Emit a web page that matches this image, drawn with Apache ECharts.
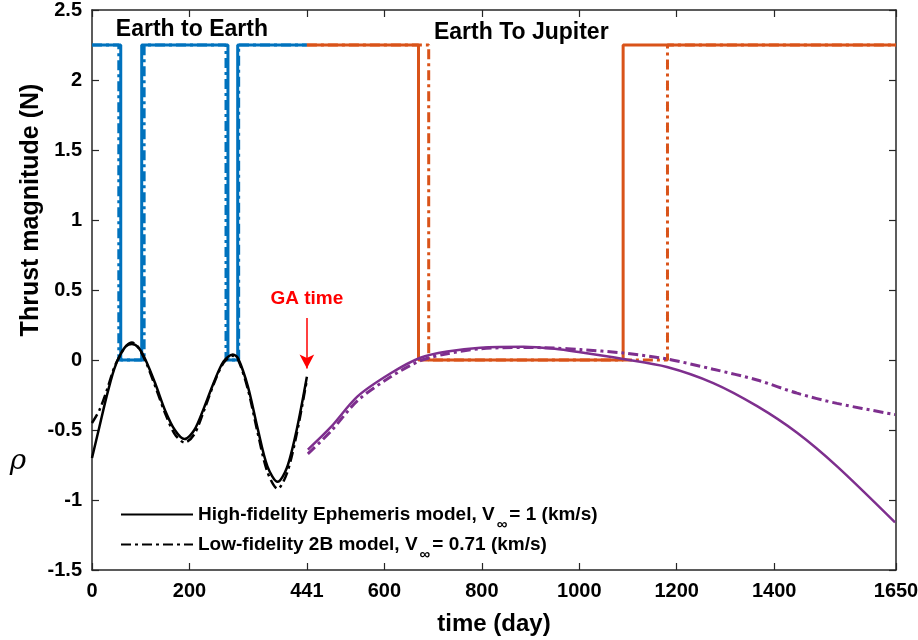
<!DOCTYPE html>
<html lang="en">
<head>
<meta charset="UTF-8">
<title>Thrust magnitude and rho</title>
<script src="https://cdn.jsdelivr.net/npm/echarts@6.0.0/dist/echarts.min.js"></script>
<style>html,body{margin:0;padding:0;background:#fff;}</style>
</head>
<body>
<div id="main" style="width:918px;height:640px;"></div>
<script type="text/javascript">
// tick labels of the time axis (day)
var xTicks = [0, 200, 441, 600, 800, 1000, 1200, 1400, 1650];
var thrustMax = 2.25;
var gaDay = 441;
var endDay = 1650;

// days where thrust switches off / back on
var e2eHighSwitch = [59, 102, 279, 299];
var e2eLowSwitch = [55, 107, 275, 301];
var e2jHighSwitch = [670, 1090];
var e2jLowSwitch = [691, 1181];

// rho, Earth to Earth leg
var e2eDays = [0, 15, 30, 45, 57, 70, 82, 95, 110, 130, 150, 170, 190, 210, 230, 250, 270, 289, 300, 320, 340, 360, 381, 400, 420, 441];
var e2eRhoHigh = [-0.70, -0.48, -0.26, -0.07, 0.03, 0.10, 0.115, 0.09, 0.0, -0.17, -0.36, -0.50, -0.565, -0.50, -0.34, -0.16, -0.01, 0.04, 0.01, -0.19, -0.49, -0.76, -0.87, -0.77, -0.50, -0.12];
var e2eRhoLow = [-0.45, -0.36, -0.22, -0.06, 0.03, 0.10, 0.125, 0.09, -0.01, -0.19, -0.38, -0.53, -0.59, -0.53, -0.36, -0.17, -0.02, 0.03, 0.0, -0.21, -0.52, -0.80, -0.92, -0.81, -0.53, -0.14];

// rho, Earth to Jupiter leg
var e2jDays = [443, 490, 545, 613, 674, 729, 797, 886, 950, 1002, 1090, 1180, 1275, 1365, 1447, 1529, 1648];
var e2jRhoHigh = [-0.64, -0.48, -0.26, -0.095, 0.016, 0.06, 0.088, 0.095, 0.08, 0.055, 0.007, -0.05, -0.165, -0.33, -0.52, -0.76, -1.16];
var e2jRhoLow = [-0.67, -0.51, -0.29, -0.12, -0.005, 0.045, 0.08, 0.09, 0.085, 0.075, 0.05, 0.007, -0.066, -0.143, -0.237, -0.31, -0.39];

var FONT = 'Arial, "Liberation Sans", Helvetica, sans-serif';
var DASHDOT = [10, 4, 3, 4];

function stepData(start, end, switches) {
    var pts = [[start, thrustMax]];
    var on = true;
    for (var i = 0; i < switches.length; i++) {
        pts.push([switches[i], on ? thrustMax : 0]);
        on = !on;
        pts.push([switches[i], on ? thrustMax : 0]);
    }
    pts.push([end, on ? thrustMax : 0]);
    return pts;
}

function zip(xs, ys) {
    var out = [];
    for (var i = 0; i < xs.length; i++) out.push([xs[i], ys[i]]);
    return out;
}

function lineSeries(name, data, color, width, dashed, smooth) {
    return {
        name: name,
        type: 'line',
        data: data,
        symbol: 'none',
        smooth: smooth ? 0.3 : false,
        lineStyle: {color: color, width: width, type: dashed ? DASHDOT : 'solid'},
        itemStyle: {color: color},
        emphasis: {disabled: true},
        animation: false
    };
}

var HIGH = 'High-fidelity Ephemeris model, V{sub|∞}= 1 (km/s)';
var LOW = 'Low-fidelity 2B model, V{sub|∞}= 0.71 (km/s)';

var series = [
    lineSeries('e2e thrust high', stepData(0, gaDay, e2eHighSwitch), '#0072BD', 3, false),
    lineSeries('e2e thrust low', stepData(0, gaDay, e2eLowSwitch), '#0072BD', 3, true),
    lineSeries('e2j thrust high', stepData(gaDay, endDay, e2jHighSwitch), '#D95319', 3, false),
    lineSeries('e2j thrust low', stepData(gaDay, endDay, e2jLowSwitch), '#D95319', 3, true),
    lineSeries('e2j rho high', zip(e2jDays, e2jRhoHigh), '#7E2F8E', 2.5, false, true),
    lineSeries('e2j rho low', zip(e2jDays, e2jRhoLow), '#7E2F8E', 3, true, true),
    lineSeries(HIGH, zip(e2eDays, e2eRhoHigh), '#000000', 2.5, false, true),
    lineSeries(LOW, zip(e2eDays, e2eRhoLow), '#000000', 2.5, true, true)
];

// GA time arrow
series[6].markLine = {
    silent: true,
    symbol: ['none', 'arrow'],
    symbolSize: [11, 14],
    label: {show: false},
    lineStyle: {color: '#FF0000', width: 1.5, type: 'solid'},
    data: [[{coord: [gaDay, 0.30]}, {coord: [gaDay, -0.06]}]]
};

var axisColor = '#262626';
var tickFont = {fontFamily: FONT, fontSize: 20, fontWeight: 'bold', color: '#000'};

var myChart = echarts.init(document.getElementById('main'));
var option = {
    backgroundColor: '#fff',
    animation: false,
    grid: {left: 92, right: 22, top: 10, bottom: 70, containLabel: false, outerBoundsMode: 'none'},
    legend: {
        data: [HIGH, LOW],
        orient: 'vertical',
        left: 120,
        top: 505,
        padding: 0,
        itemWidth: 72,
        itemHeight: 14,
        itemGap: 3,
        selectedMode: false,
        itemStyle: {color: 'rgba(0,0,0,0)', borderWidth: 0, opacity: 0},
        textStyle: {
            fontFamily: FONT, fontSize: 19, fontWeight: 'bold', color: '#000',
            rich: {
                sub: {fontFamily: FONT, fontSize: 15, fontWeight: 'bold', color: '#000', padding: [20, 2, 0, 2]}
            }
        }
    },
    xAxis: [{
        type: 'value',
        min: 0, max: endDay,
        name: 'time (day)',
        nameLocation: 'middle',
        nameGap: 42,
        nameTextStyle: {fontFamily: FONT, fontSize: 24, fontWeight: 'bold', color: '#000'},
        axisLine: {show: true, onZero: false, lineStyle: {color: axisColor, width: 1.5}},
        axisTick: {show: true, inside: true, length: 7, customValues: xTicks, lineStyle: {color: axisColor, width: 1.2}},
        axisLabel: Object.assign({
            margin: 11, customValues: xTicks, hideOverlap: false,
            formatter: function (v) { return String(v); }
        }, tickFont),
        splitLine: {show: false}
    }, {
        type: 'value',
        position: 'top',
        min: 0, max: endDay,
        axisLine: {show: true, onZero: false, lineStyle: {color: axisColor, width: 1.5}},
        axisTick: {show: true, inside: true, length: 7, customValues: xTicks, lineStyle: {color: axisColor, width: 1.2}},
        axisLabel: {show: false},
        splitLine: {show: false}
    }],
    yAxis: [{
        type: 'value',
        min: -1.5, max: 2.5, interval: 0.5,
        axisLine: {show: true, onZero: false, lineStyle: {color: axisColor, width: 1.5}},
        axisTick: {show: true, inside: true, length: 7, lineStyle: {color: axisColor, width: 1.2}},
        axisLabel: Object.assign({margin: 10}, tickFont),
        splitLine: {show: false}
    }, {
        type: 'value',
        position: 'right',
        min: -1.5, max: 2.5, interval: 0.5,
        axisLine: {show: true, onZero: false, lineStyle: {color: axisColor, width: 1.5}},
        axisTick: {show: true, inside: true, length: 7, lineStyle: {color: axisColor, width: 1.2}},
        axisLabel: {show: false},
        splitLine: {show: false}
    }],
    series: series
};
myChart.setOption(option);

// text annotations placed in data coordinates
function px(day, val) {
    return myChart.convertToPixel({xAxisIndex: 0, yAxisIndex: 0}, [day, val]);
}
var pE2E = px(205, 2.36);
var pE2J = px(881, 2.34);
var pGA = px(gaDay, 0.44);
var bold = function (size, color) {
    return {font: 'bold ' + size + 'px ' + FONT, fill: color, textAlign: 'center', textVerticalAlign: 'middle'};
};
myChart.setOption({
    graphic: [
        {type: 'text', x: pE2E[0], y: pE2E[1], style: Object.assign({text: 'Earth to Earth'}, bold(23, '#000'))},
        {type: 'text', x: pE2J[0], y: pE2J[1], style: Object.assign({text: 'Earth To Jupiter'}, bold(23, '#000'))},
        {type: 'text', x: pGA[0], y: pGA[1], style: Object.assign({text: 'GA time'}, bold(19, '#FF0000'))},
        {type: 'text', x: 31, y: 210, rotation: Math.PI / 2, style: Object.assign({text: 'Thrust magnitude (N)'}, bold(25, '#000'))},
        {type: 'text', x: 18, y: 462, style: {text: 'ρ', font: 'italic 28px "DejaVu Serif", serif', fill: '#000', textAlign: 'center', textVerticalAlign: 'middle'}}
    ]
});
</script>
</body>
</html>
